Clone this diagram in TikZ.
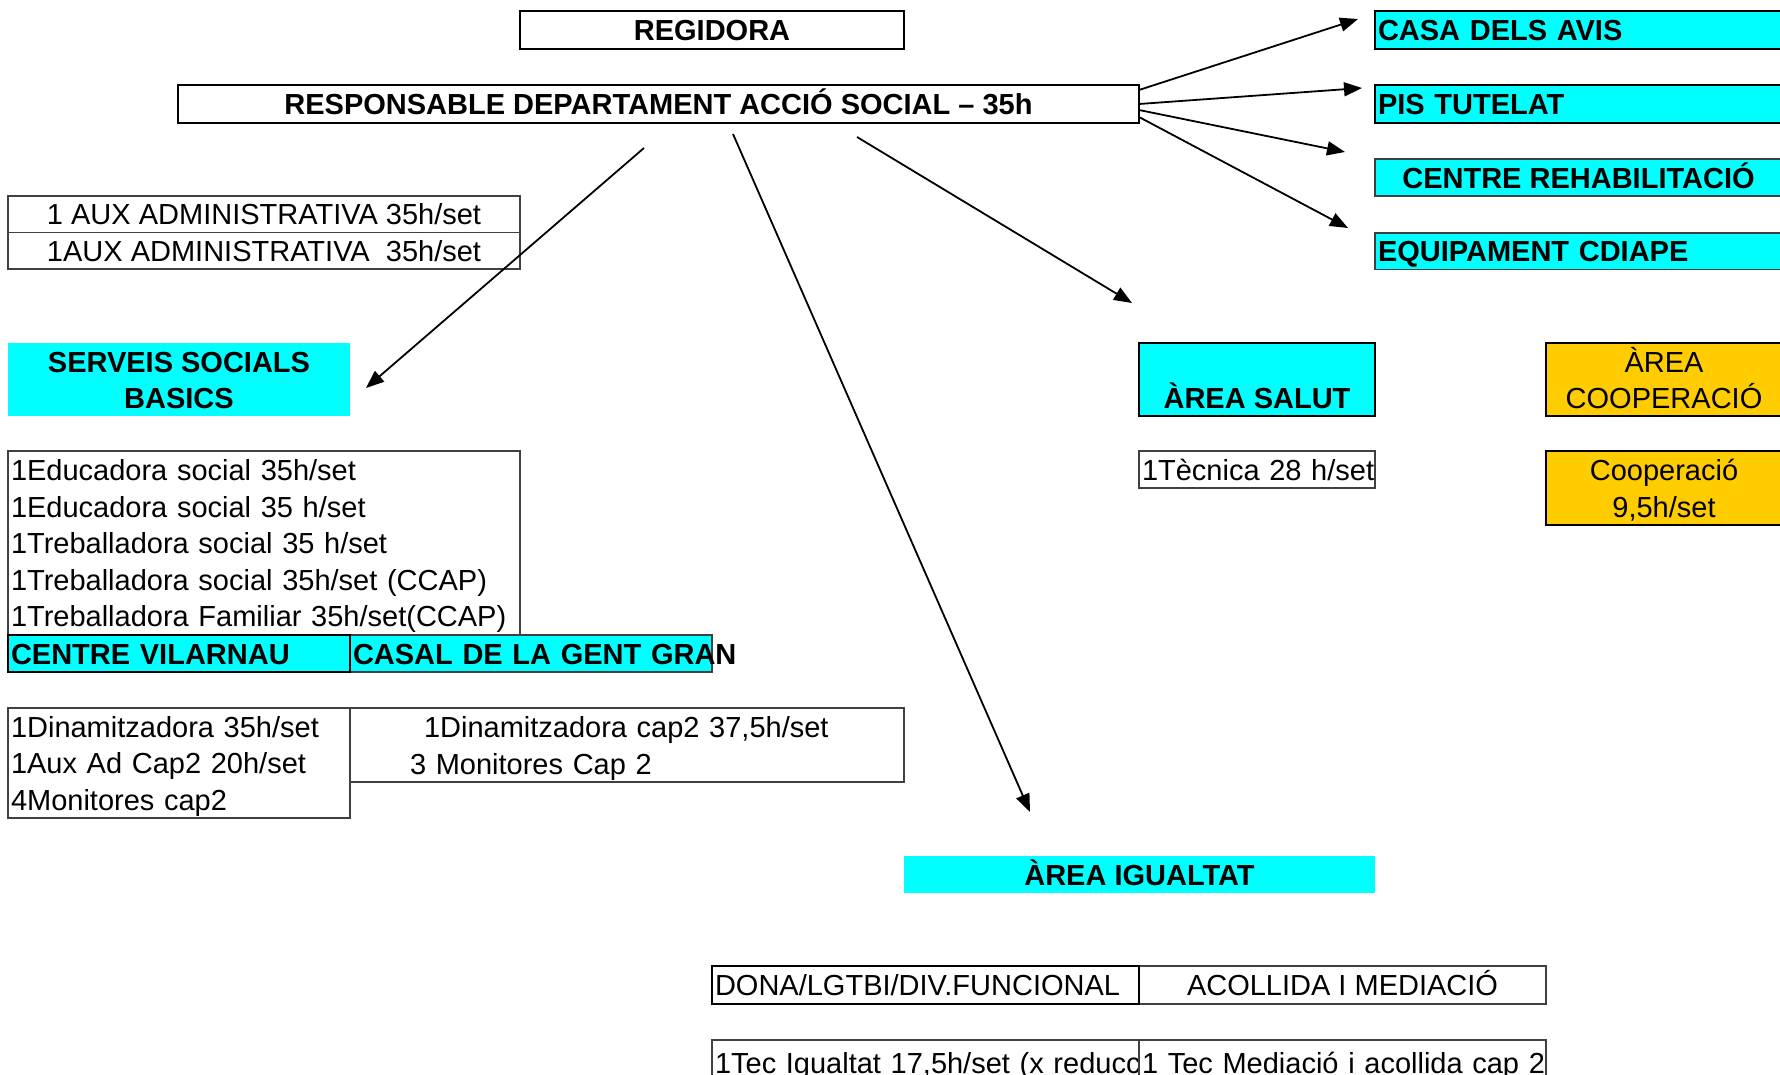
\documentclass[tikz,border=0pt]{standalone}
\usepackage{fontspec}
\setmainfont{Liberation Sans}
\usetikzlibrary{arrows.meta}
\definecolor{cian}{HTML}{00FFFF}
\definecolor{taronja}{HTML}{FFCC00}
\newcommand{\lletra}{\fontsize{29}{36.5}\selectfont}
\newcommand{\fs}{\rule[-7.5pt]{0pt}{36.5pt}}

\begin{document}
\begin{tikzpicture}[x=1pt, y=-1pt,
  cell/.style={anchor=north west, inner xsep=3pt, inner ysep=0pt, outer sep=0pt, font=\lletra},
  una/.style={text height=29pt, text depth=7.5pt},
  fi/.style={cell, draw=black!75, line width=1.2pt},
  gros/.style={cell, draw, line width=2.5pt},
  negre/.style={font=\lletra\bfseries},
  esq/.style={align=left, text width=#1},
  fletxa/.style={-{Triangle[length=18pt,width=14pt]}, line width=1.8pt}]
\useasboundingbox (0,0) rectangle (1780,1075);

\node[gros, una, negre, minimum width=384pt, minimum height=38pt] (regidora) at (520,11) {REGIDORA};
\node[gros, una, negre, minimum width=961pt, minimum height=38pt] (resp) at (178,85) {RESPONSABLE DEPARTAMENT ACCIÓ SOCIAL – 35h};

\node[gros, una, negre, fill=cian, minimum height=38pt, esq=401pt] (casa) at (1375,11) {CASA DELS AVIS};
\node[gros, una, negre, fill=cian, minimum height=38pt, esq=401pt] (pis) at (1375,85) {PIS TUTELAT};
\node[fi, una, negre, fill=cian, minimum width=407pt, minimum height=37pt] (rehab) at (1375,159) {CENTRE REHABILITACIÓ};
\node[fi, una, negre, fill=cian, minimum height=36pt, esq=401pt] (cdiape) at (1375,233) {EQUIPAMENT CDIAPE};

\node[fi, minimum width=512pt, minimum height=73pt, align=center] (aux) at (8,196) {\fs 1 AUX ADMINISTRATIVA 35h/set\\\fs 1AUX ADMINISTRATIVA\ \ 35h/set};
\draw[black!75, line width=1.2pt] (aux.west) -- (aux.east);

\node[cell, negre, fill=cian, minimum width=342pt, minimum height=71pt, align=center] (serveis) at (8,343) {\fs SERVEIS SOCIALS\\\fs BASICS};
\node[fi, minimum height=184pt, esq=506pt] (educ) at (8,451) {\fs 1Educadora social 35h/set\\\fs 1Educadora social 35 h/set\\\fs 1Treballadora social 35 h/set\\\fs 1Treballadora social 35h/set (CCAP)\\\fs 1Treballadora Familiar 35h/set(CCAP)};
\node[fi, una, negre, fill=cian, minimum height=37pt, esq=356pt] (casal) at (350,635) {\mbox{CASAL DE LA GENT GRAN}};
\node[gros, una, negre, fill=cian, minimum height=37pt, esq=336pt] (vilarnau) at (8,635) {CENTRE VILARNAU};
\node[fi, minimum height=110pt, esq=336pt] (dinam) at (8,708) {\fs 1Dinamitzadora 35h/set\\\fs 1Aux Ad Cap2 20h/set\\\fs 4Monitores cap2};
\node[fi, minimum height=74pt, esq=548pt] (casaldin) at (350,708) {\fs\hspace*{71pt}1Dinamitzadora cap2 37,5h/set\\\fs\hspace*{57pt}3 Monitores Cap 2};

\node[gros, negre, fill=cian, minimum width=236pt, minimum height=71pt, align=center] (salut) at (1139,343) {\fs\\\fs ÀREA SALUT};
\node[fi, una, minimum height=37pt, esq=230pt] (tecnica) at (1139,451) {\mbox{1Tècnica 28 h/set}};
\node[gros, fill=taronja, minimum width=236pt, minimum height=71pt, align=center] (coop) at (1546,343) {\fs ÀREA\\\fs COOPERACIÓ};
\node[gros, fill=taronja, minimum width=236pt, minimum height=74pt, align=center] (coophores) at (1546,451) {\fs Cooperació\\\fs 9,5h/set};

\node[cell, una, negre, fill=cian, minimum width=471pt, minimum height=36pt] (igualtat) at (904,856) {ÀREA IGUALTAT};
\node[fi, una, minimum width=407pt, minimum height=38pt] (acollida) at (1139,966) {ACOLLIDA I MEDIACIÓ};
\node[gros, una, minimum height=38pt, esq=421pt] (dona) at (712,966) {DONA/LGTBI/DIV.FUNCIONAL};
\node[fi, una, minimum height=45pt, esq=421pt] (tecigualtat) at (712,1040) {\mbox{1Tec Igualtat 17,5h/set (x reducc}};
\node[fi, una, fill=white, minimum height=45pt, esq=401pt] (mediacio) at (1139,1040) {\mbox{1 Tec Mediació i acollida cap 2}};

\coordinate (s1) at (644,148);
\coordinate (s2) at (733,134);
\coordinate (s3) at (857,137);
\coordinate (e1) at (366,388);
\coordinate (e2) at (1030,812);
\coordinate (e3) at (1132,303);
\coordinate (pcasa) at (1358,19);
\coordinate (ppis) at (1362,88);
\coordinate (prehab) at (1345,152);
\coordinate (pcdiape) at (1348,228);

\draw[fletxa] (s1) -- (e1);
\draw[fletxa] (s2) -- (e2);
\draw[fletxa] (s3) -- (e3);
\draw[fletxa] ([yshift=14pt]resp.east) -- (pcasa);
\draw[fletxa] (resp.east) -- (ppis);
\draw[fletxa] ([yshift=-6pt]resp.east) -- (prehab);
\draw[fletxa] ([yshift=-13pt]resp.east) -- (pcdiape);
\end{tikzpicture}
\end{document}
